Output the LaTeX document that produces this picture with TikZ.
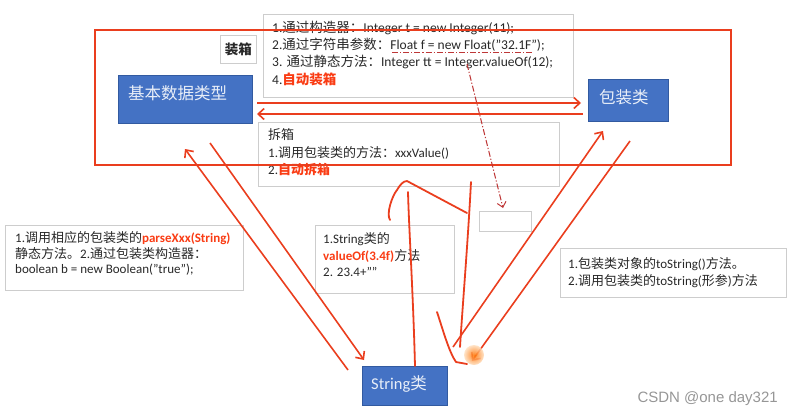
\documentclass[tikz,border=0pt]{standalone}
\usepackage{fontspec}
\setmainfont{Carlito}
\newfontfamily\cjk{Noto Sans CJK SC}
\newfontfamily\wmfont{Liberation Sans}
\usetikzlibrary{arrows.meta}
\definecolor{lred}{RGB}{234,62,30}
\definecolor{rtxt}{RGB}{250,60,20}
\definecolor{bfill}{RGB}{68,114,196}
\definecolor{bdraw}{RGB}{50,90,160}
\definecolor{btxt}{RGB}{232,238,248}
\definecolor{gboxc}{RGB}{205,205,205}
\definecolor{ddred}{RGB}{190,55,55}
\definecolor{ttxt}{RGB}{40,40,40}
\definecolor{wmc}{RGB}{150,150,150}
\tikzset{
  gbox/.style={draw=gboxc, line width=0.8pt, fill=white, inner sep=0pt, anchor=north west},
  bbox/.style={draw=bdraw, fill=bfill, line width=1pt, inner sep=0pt, anchor=north west},
  ln/.style={inner sep=0pt, anchor=west, text=ttxt, font=\fontsize{13}{15}\selectfont},
  lnb/.style={inner sep=0pt, anchor=west, text=ttxt, font=\fontsize{13.5}{15}\selectfont},
  btext/.style={inner sep=0pt, text=btxt, font=\cjk\fontsize{16.5}{18}\selectfont},
  redarrow/.style={draw=lred, line width=1.6pt, -{Straight Barb[length=6pt,width=11pt]}},
  bigframe/.style={draw=lred, line width=2.5pt},
  scrib/.style={draw=lred, line width=1.8pt, line cap=round, line join=round},
  dashdot/.style={draw=ddred, line width=1pt, dash pattern=on 6pt off 2pt on 1.2pt off 2pt},
}
\newcommand{\rb}[1]{{\bfseries\color{rtxt}#1}}
\newcommand{\rbc}[1]{{\cjk\bfseries\color{rtxt}#1}}
\begin{document}
\begin{tikzpicture}[x=1pt,y=-1pt]
\useasboundingbox (0,0) rectangle (793,416);
% top box
\node[gbox, minimum width=310pt, minimum height=83pt] (topbox) at (263,14) {};
\node[lnb] (t1) at (272,28) {1.{\cjk 通过构造器：}Integer t = new Integer(11);};
\node[lnb] (t2) at (272,45) {2.{\cjk 通过字符串参数：}Float f = new Float("32.1F");};
\node[lnb] (t3) at (272,62) {3. {\cjk 通过静态方法：}Integer tt = Integer.valueOf(12);};
\node[lnb] (t4) at (272,79) {4.\rbc{自动装箱}};
% zhuangxiang label
\node[gbox, minimum width=36pt, minimum height=28pt] (zx) at (220,35) {};
\node[inner sep=0pt, text=ttxt, font=\cjk\bfseries\fontsize{13.5}{15}\selectfont] (zxt) at (zx.center) {装箱};
% chaixiang box
\node[gbox, minimum width=301pt, minimum height=64pt] (cxbox) at (258,122) {};
\node[ln] (c1) at (268,135) {{\cjk 拆箱}};
\node[ln] (c2) at (268,153) {1.{\cjk 调用包装类的方法：}xxxValue()};
\node[ln] (c3) at (268,170) {2.\rbc{自动拆箱}};
% left box
\node[gbox, minimum width=238pt, minimum height=65pt] (lbox) at (5,225) {};
\node[ln] (l1) at (15,238) {1.{\cjk 调用相应的包装类的}\rb{parseXxx(String)}};
\node[ln] (l2) at (15,254) {{\cjk 静态方法。}2.{\cjk 通过包装类构造器：}};
\node[ln] (l3) at (15,270) {boolean b = new Boolean("true");};
% middle box
\node[gbox, minimum width=139pt, minimum height=68pt] (mbox) at (315,225) {};
\node[ln] (m1) at (323,239) {1.String{\cjk 类的}};
\node[ln] (m2) at (323,256) {\rb{valueOf(3.4f)}{\cjk 方法}};
\node[ln] (m3) at (323,272) {2. 23.4+""};
% small empty box
\node[gbox, minimum width=52pt, minimum height=20pt] (sbox) at (479,211) {};
% right box
\node[gbox, minimum width=226pt, minimum height=49pt] (rbox) at (560,248) {};
\node[ln] (r1) at (568,264) {1.{\cjk 包装类对象的}toString(){\cjk 方法。}};
\node[ln] (r2) at (568,281) {2.{\cjk 调用包装类的}toString({\cjk 形参}){\cjk 方法}};
% big red frame
\draw[bigframe] (95,30) rectangle (731,165);
% blue boxes
\node[bbox, minimum width=134pt, minimum height=48pt] (basic) at (118,75) {};
\node[btext, anchor=west] (basict) at (128,93) {基本数据类型};
\node[bbox, minimum width=80pt, minimum height=42pt] (wrap) at (588,79) {};
\node[btext, anchor=west] (wrapt) at (599,97) {包装类};
\node[bbox, minimum width=85pt, minimum height=39pt] (str) at (362,366) {};
\node[btext, font=\fontsize{16.5}{18}\selectfont] (strt) at (399,384) {String{\cjk 类}};
% horizontal arrows
\coordinate (ha1) at (257,103);
\coordinate (ha2) at (581,103);
\coordinate (hb1) at (583,114);
\coordinate (hb2) at (257,114);
\draw[redarrow] (ha1) -- (ha2);
\draw[redarrow] (hb1) -- (hb2);
% diagonal arrows
\coordinate (d1s) at (348,370);
\coordinate (d1e) at (185,149);
\coordinate (d2s) at (210,143);
\coordinate (d2e) at (364,360);
\coordinate (d3s) at (453,347);
\coordinate (d3e) at (603,131);
\coordinate (d4s) at (630,141);
\coordinate (d4e) at (472,361);
\draw[redarrow] (d1s) -- (d1e);
\draw[redarrow] (d2s) -- (d2e);
\draw[redarrow] (d3s) -- (d3e);
\draw[redarrow] (d4s) -- (d4e);
% dash-dot annotations
\coordinate (u1) at (392,52);
\coordinate (u2) at (533,52);
\draw[dashdot] (u1) -- (u2);
\coordinate (dd1) at (467,64);
\coordinate (dd2) at (503,208);
\draw[dashdot, -{Straight Barb[length=5pt,width=9pt]}] (dd1) -- (dd2);
% orange highlight
\shade[inner color=orange!90!red, outer color=orange!25, opacity=0.85] (474,355) circle (10pt);
% freehand scribbles
\draw[scrib] (415,366) .. controls (413,290) and (409,230) .. (408,192);
\draw[scrib] (390,220) .. controls (386,214) and (392,196) .. (397,190) .. controls (400,185) and (403,181) .. (407,181) -- (467,213);
\draw[scrib] (471,182) .. controls (468,240) and (463,300) .. (460,347);
\draw[scrib] (437,312) .. controls (443,330) and (449,352) .. (456,362) -- (467,364);
% watermark
\node[inner sep=0pt, anchor=east, text=wmc, font=\wmfont\fontsize{15}{17}\selectfont] (wm) at (778,399) {CSDN @one day321};
\end{tikzpicture}
\end{document}
